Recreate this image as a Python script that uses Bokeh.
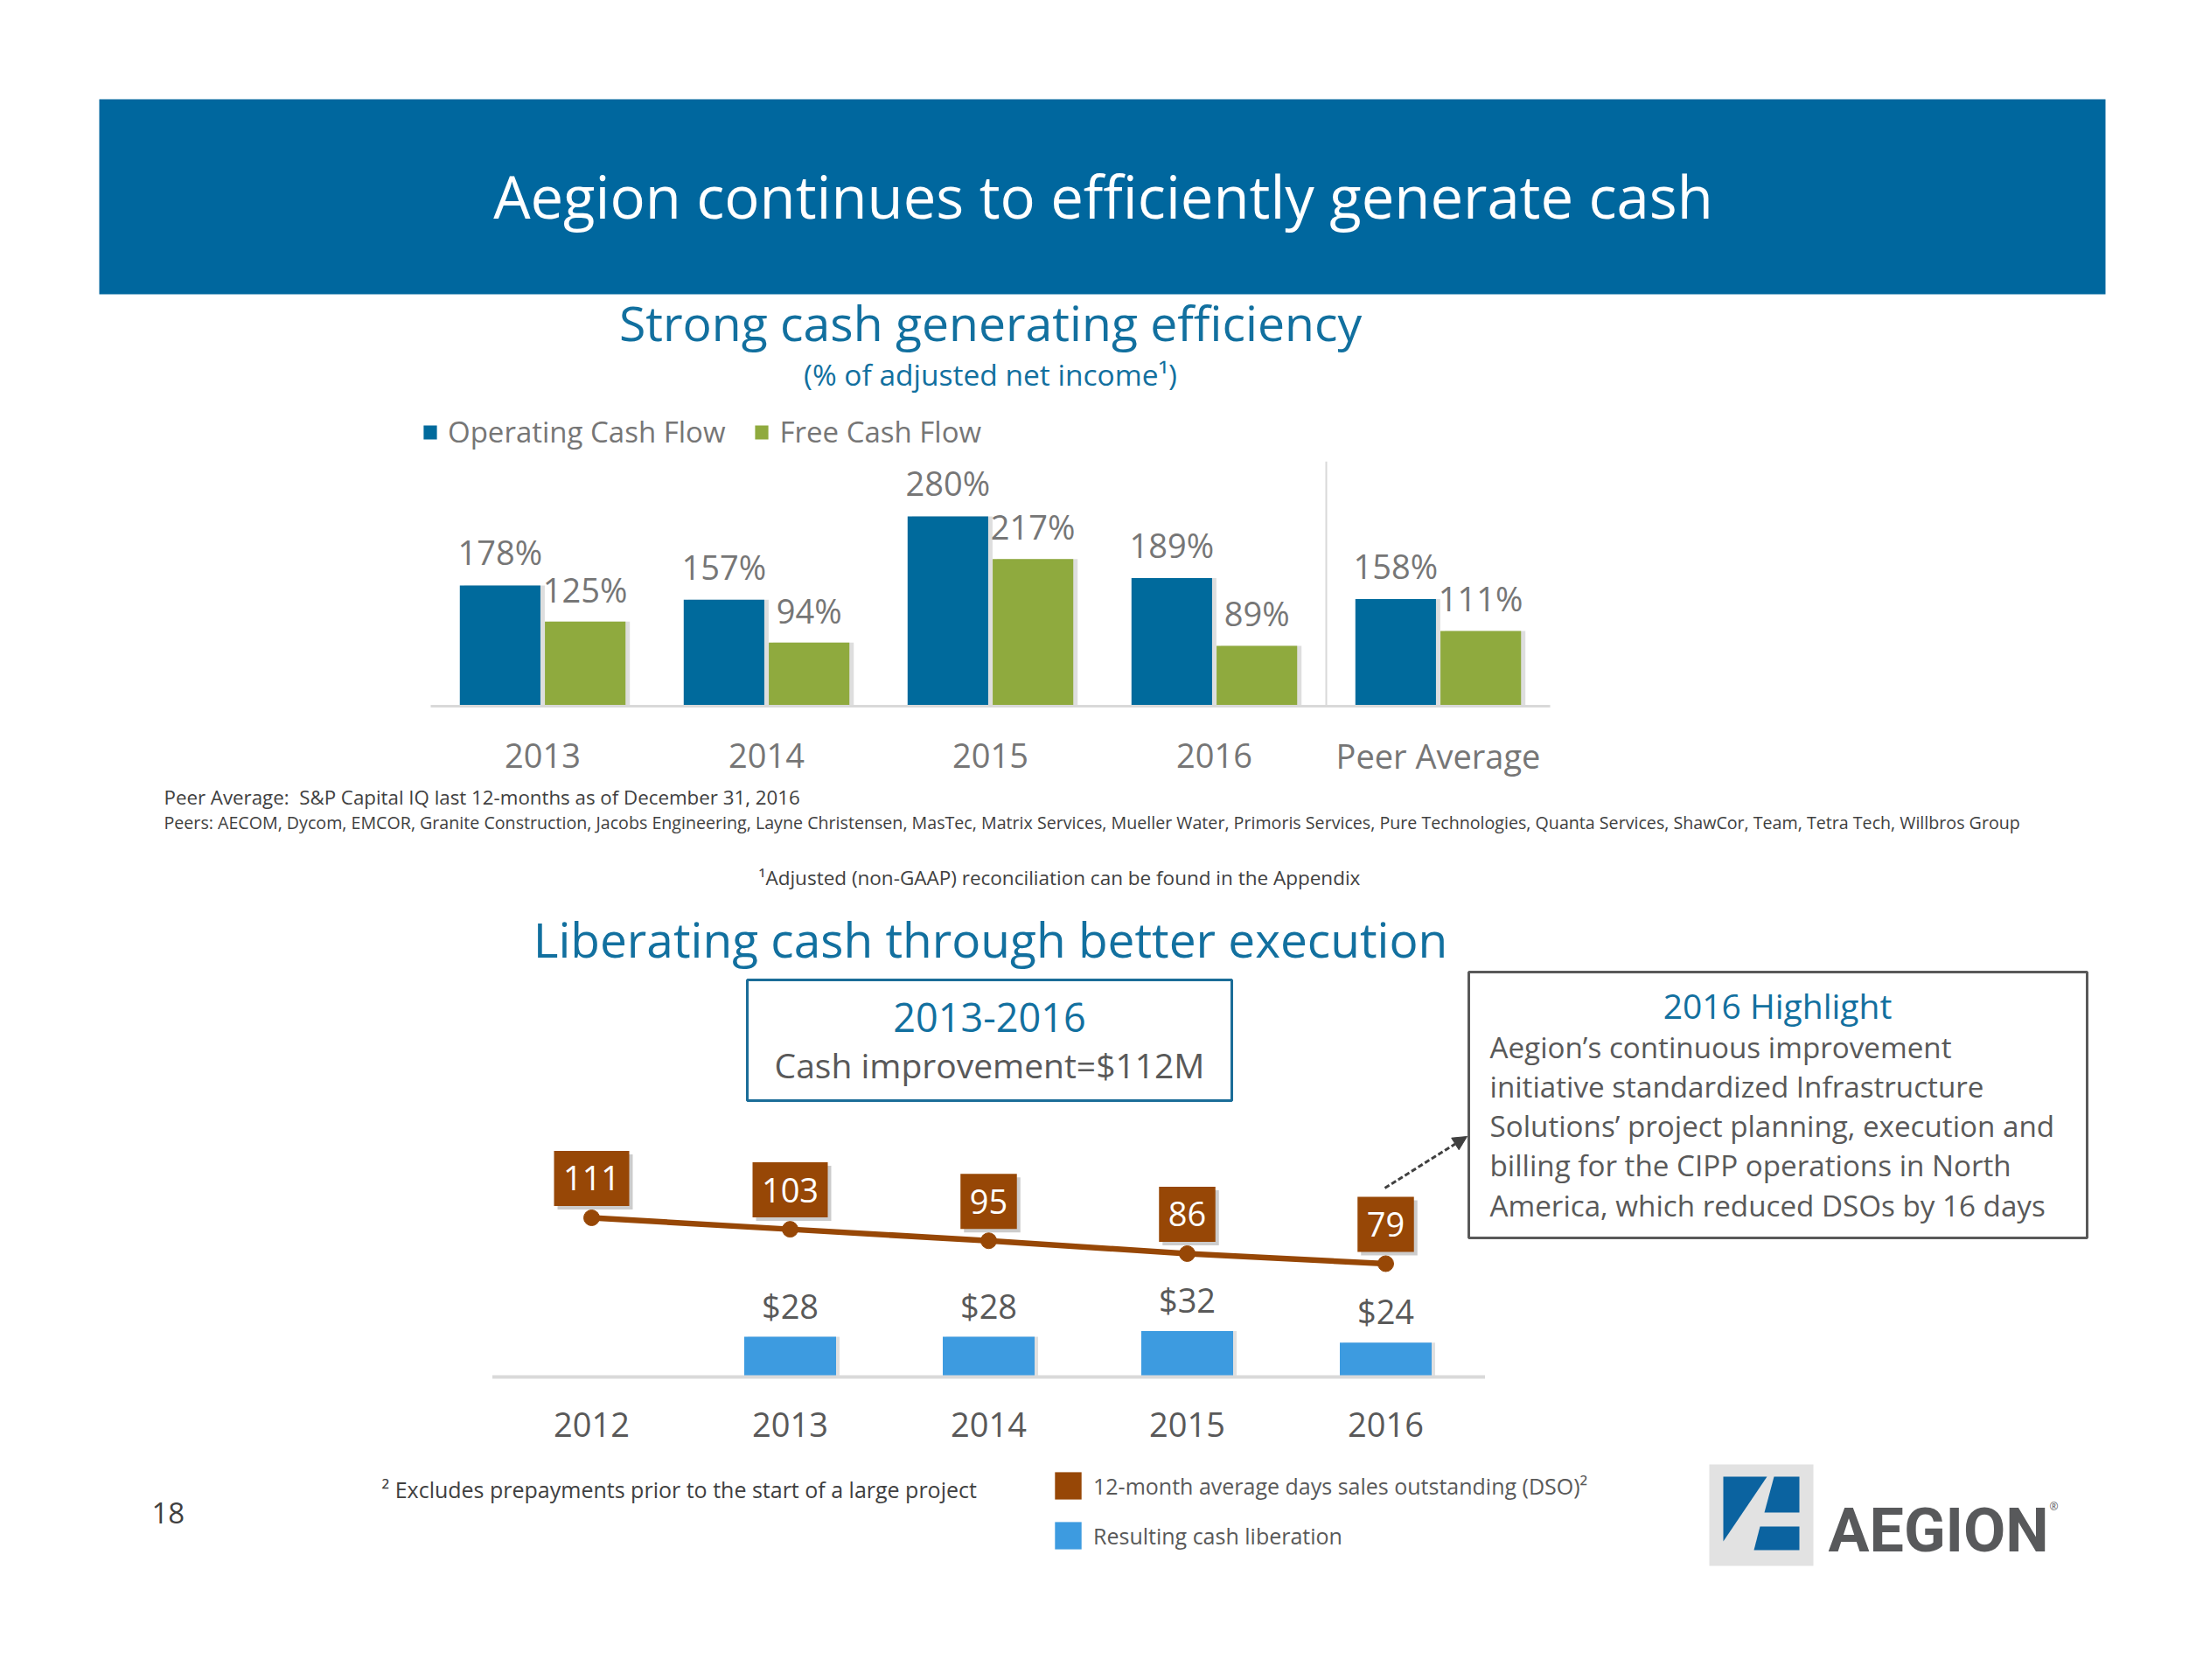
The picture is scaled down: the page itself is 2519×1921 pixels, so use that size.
from bokeh.plotting import figure
from bokeh.models import (Range1d, ColumnDataSource, Legend, LegendItem, Label, Arrow, NormalHead)
from bokeh.transform import dodge
from bokeh.core.properties import value
from bokeh.embed import file_html
from bokeh.resources import INLINE

# ---------------- data ----------------
cf_categories = ["2013", "2014", "2015", "2016", "Peer Average"]
operating_cash_flow = [178, 157, 280, 189, 158]
free_cash_flow = [125, 94, 217, 89, 111]
cf_series = ["Operating Cash Flow", "Free Cash Flow"]

dso_years = ["2012", "2013", "2014", "2015", "2016"]
dso_days = [111, 103, 95, 86, 79]
cash_years = ["2013", "2014", "2015", "2016"]
cash_liberation = [28, 28, 32, 24]
dso_series = ["12-month average days sales outstanding (DSO)\u00b2", "Resulting cash liberation"]

# ---------------- page geometry ----------------
OFF = 0
W, H = 2519, 1921
FONT = "Open Sans"
BASE_FIX = 0.37   # baseline correction (fraction of font size)

BLUE_HDR = "#00679E"
TITLE_BLUE = "#12709F"
BAR_BLUE = "#006A9C"
BAR_GREEN = "#8FAA3E"
GRAY_LIGHT = "#767676"
GRAY_DARK = "#595959"
GRAY_NOTE = "#404040"
BROWN = "#974706"
LIGHT_BLUE = "#3D9BE0"
AXIS_GRAY = "#D9D9D9"

p = figure(width=W, height=H, x_range=Range1d(OFF, OFF + W), y_range=Range1d(OFF + H, OFF),
           output_backend="svg", toolbar_location=None, x_axis_location=None, y_axis_location=None,
           min_border=0, outline_line_color=None, title=None,
           background_fill_color="white", border_fill_color="white")
p.grid.visible = False


def lin_range(v0, px0, v1, px1, horizontal):
    k = (px1 - px0) / (v1 - v0)
    if horizontal:
        return Range1d(v0 + (OFF - px0) / k, v0 + (OFF + W - px0) / k)
    return Range1d(v0 + (OFF + H - px0) / k, v0 + (OFF - px0) / k)


def txt(x, y, s, size, color, align="center", font=FONT, style="normal"):
    p.add_layout(Label(x=x, y=y - BASE_FIX * size, text=s, text_font=font,
                       text_font_size=f"{size}px", text_color=color, text_align=align,
                       text_baseline="alphabetic", text_font_style=style))


# ---------------- slide header ----------------
p.quad(left=113, right=2407, top=113, bottom=336, fill_color=BLUE_HDR, line_color=None)
txt(1261, 248, "Aegion continues to efficiently generate cash", 67, "white")

# ---------------- chart 1 ----------------
txt(1132, 388, "Strong cash generating efficiency", 55.3, TITLE_BLUE)
txt(1132, 440, "(% of adjusted net income\u00b9)", 33.5, TITLE_BLUE)

C1_PX_PER_UNIT = 0.775
p.extra_x_ranges["c1x"] = lin_range(0, 620, 1, 876, True)
p.extra_y_ranges["c1y"] = lin_range(0, 807, 100, 807 - 100 * C1_PX_PER_UNIT, False)
C1_DODGE = 0.19
C1_BAR_W = 0.36
C1_SHADOW = 5 / 256.0

src1 = ColumnDataSource(dict(
    idx=list(range(len(cf_categories))), cat=cf_categories,
    ocf=operating_cash_flow, fcf=free_cash_flow,
    ocf_lbl=[f"{v}%" for v in operating_cash_flow],
    fcf_lbl=[f"{v}%" for v in free_cash_flow]))

kw1 = dict(source=src1, x_range_name="c1x", y_range_name="c1y")
for off, col in ((-C1_DODGE, "ocf"), (C1_DODGE, "fcf")):
    p.vbar(x=dodge("idx", off + C1_SHADOW), top=col, bottom=0, width=C1_BAR_W,
           fill_color="black", fill_alpha=0.13, line_color=None, **kw1)
r_ocf = p.vbar(x=dodge("idx", -C1_DODGE), top="ocf", bottom=0, width=C1_BAR_W,
               fill_color=BAR_BLUE, line_color=None, **kw1)
r_fcf = p.vbar(x=dodge("idx", C1_DODGE), top="fcf", bottom=0, width=C1_BAR_W,
               fill_color=BAR_GREEN, line_color=None, **kw1)

n1 = len(cf_categories)
p.segment(x0=-0.5, x1=n1 - 0.5, y0=0, y1=0, line_color=AXIS_GRAY, line_width=3,
          x_range_name="c1x", y_range_name="c1y")
p.segment(x0=n1 - 1.5, x1=n1 - 1.5, y0=0, y1=361, line_color=AXIS_GRAY, line_width=2,
          x_range_name="c1x", y_range_name="c1y")

LBL = 38
lbl_kw = dict(text_font=value(FONT), text_font_size=f"{LBL}px", text_color=GRAY_LIGHT,
              text_align="center", text_baseline="alphabetic")
fix = -BASE_FIX * LBL
p.text(x=dodge("idx", -C1_DODGE), y="ocf", text="ocf_lbl", y_offset=-24 + fix, **lbl_kw, **kw1)
p.text(x=dodge("idx", C1_DODGE), y="fcf", text="fcf_lbl", y_offset=-23 + fix, **lbl_kw, **kw1)
p.text(x="idx", y=0, text="cat", y_offset=71 + fix, **lbl_kw, **kw1)

leg1 = Legend(items=[LegendItem(label=cf_series[0], renderers=[r_ocf]),
                     LegendItem(label=cf_series[1], renderers=[r_fcf])],
              orientation="horizontal", location=(482 - OFF, OFF + H - 516), glyph_width=19,
              glyph_height=20, label_standoff=11, spacing=32, padding=0, margin=0,
              border_line_color=None, background_fill_alpha=0, label_text_font=FONT,
              label_text_font_size="33px", label_text_color=GRAY_LIGHT, label_height=20)
p.add_layout(leg1)

# footnotes
txt(187, 919, "Peer Average:\u00a0 S&P Capital IQ last 12-months as of December 31, 2016", 22.3, GRAY_NOTE, align="left")
txt(187, 947, "Peers: AECOM, Dycom, EMCOR, Granite Construction, Jacobs Engineering, Layne Christensen, "
              "MasTec, Matrix Services, Mueller Water, Primoris Services, Pure Technologies, Quanta Services, "
              "ShawCor, Team, Tetra Tech, Willbros Group", 19.65, GRAY_NOTE, align="left")
txt(1211, 1011, "\u00b9Adjusted (non-GAAP) reconciliation can be found in the Appendix", 22.5, GRAY_NOTE)

# ---------------- chart 2 ----------------
txt(1132, 1093, "Liberating cash through better execution", 55, TITLE_BLUE)

p.quad(left=854, right=1408, top=1120, bottom=1258, fill_color=None, line_color="#1B6D98", line_width=3)
txt(1131, 1180, "2013-2016", 45, TITLE_BLUE)
txt(1131, 1231, "Cash improvement=$112M", 39, GRAY_DARK)

p.quad(left=1679, right=2386, top=1111, bottom=1415, fill_color=None, line_color=GRAY_DARK, line_width=3)
txt(2032, 1163, "2016 Highlight", 39, TITLE_BLUE)
highlight_lines = ["Aegion\u2019s continuous improvement",
                   "initiative standardized Infrastructure",
                   "Solutions\u2019 project planning, execution and",
                   "billing for the CIPP operations in North",
                   "America, which reduced DSOs by 16 days"]
for i, line in enumerate(highlight_lines):
    txt(1703, 1209 + 45.2 * i, line, 33.2, GRAY_DARK, align="left")

C2_PX_PER_UNIT = 1.6396
p.extra_x_ranges["c2x"] = lin_range(0, 676, 1, 903, True)
p.extra_y_ranges["c2y"] = lin_range(0, 1574, 100, 1574 - 100 * C2_PX_PER_UNIT, False)
kw2r = dict(x_range_name="c2x", y_range_name="c2y")

C2_BAR_W = 105 / 227.0
cash_idx = [dso_years.index(y) for y in cash_years]
src_cash = ColumnDataSource(dict(idx=cash_idx, cash=cash_liberation,
                                 lbl=[f"${v}" for v in cash_liberation]))
p.vbar(x=dodge("idx", 4 / 227.0), top="cash", bottom=0, width=C2_BAR_W, fill_color="black",
       fill_alpha=0.12, line_color=None, source=src_cash, **kw2r)
r_cash = p.vbar(x="idx", top="cash", bottom=0, width=C2_BAR_W, fill_color=LIGHT_BLUE,
                line_color=None, source=src_cash, **kw2r)
p.segment(x0=-0.5, x1=len(dso_years) - 0.5, y0=0, y1=0, line_color=AXIS_GRAY, line_width=4, **kw2r)

lbl2 = dict(text_font=value(FONT), text_font_size=f"{LBL}px", text_color=GRAY_DARK,
            text_align="center", text_baseline="alphabetic")
p.text(x="idx", y="cash", text="lbl", y_offset=-22 + fix, source=src_cash, **lbl2, **kw2r)

LIFT = 45 / C2_PX_PER_UNIT
src_dso = ColumnDataSource(dict(
    idx=list(range(len(dso_years))), year=dso_years, dso=dso_days,
    lbl=[str(v) for v in dso_days],
    box_y=[v + LIFT for v in dso_days],
    shadow_y=[v + LIFT - 4 / C2_PX_PER_UNIT for v in dso_days],
    box_w=[21.5 * (len(str(v)) + 1) for v in dso_days]))
p.text(x="idx", y=0, text="year", y_offset=69 + fix, source=src_dso, **lbl2, **kw2r)
p.line(x="idx", y="dso", line_color=BROWN, line_width=6.5, source=src_dso, **kw2r)
p.scatter(x="idx", y="dso", size=18, fill_color=BROWN, line_color=BROWN, source=src_dso, **kw2r)
p.rect(x=dodge("idx", 4 / 227.0), y="shadow_y", width="box_w", width_units="screen", height=63,
       height_units="screen", fill_color="black", fill_alpha=0.2, line_color=None, source=src_dso, **kw2r)
r_box = p.rect(x="idx", y="box_y", width="box_w", width_units="screen", height=63, height_units="screen",
               fill_color=BROWN, line_color=None, source=src_dso, **kw2r)
p.text(x="idx", y="box_y", text="lbl", y_offset=14 + fix, source=src_dso,
       text_font=value(FONT), text_font_size=f"{LBL}px", text_color="white",
       text_align="center", text_baseline="alphabetic", **kw2r)

p.add_layout(Arrow(x_start=1583, y_start=1358, x_end=1677, y_end=1299, line_color="#404040",
                   line_width=3, line_dash="6 3",
                   end=NormalHead(size=16, fill_color="#404040", line_color="#404040")))

leg2 = Legend(items=[LegendItem(label=dso_series[0], renderers=[r_box]),
                     LegendItem(label=dso_series[1], renderers=[r_cash])],
              orientation="vertical", location=(1202 - OFF, OFF + H - 1775), glyph_width=38,
              glyph_height=39, label_standoff=10, spacing=18, padding=0, margin=0,
              border_line_color=None, background_fill_alpha=0, label_text_font=FONT,
              label_text_font_size="25px", label_text_color=GRAY_DARK, label_height=20)
p.add_layout(leg2)

txt(436, 1712, "\u00b2 Excludes prepayments prior to the start of a large project", 25, GRAY_NOTE, align="left")
txt(173, 1742, "18", 33, GRAY_NOTE, align="left")

# ---------------- logo ----------------
p.quad(left=1954, right=2073, top=1674, bottom=1790, fill_color="#E2E2E2", line_color=None)
p.patches(xs=[[1970, 2020, 1970], [2028, 2057, 2057, 2017], [2012, 2057, 2057, 2005]],
          ys=[[1688, 1688, 1762], [1688, 1688, 1729, 1729], [1745, 1745, 1772, 1772]],
          fill_color="#0B63A0", line_color=None)
txt(2090, 1775, "AEGION", 70, "#58595B", align="left", font="Roboto", style="bold")
txt(2343, 1726, "\u00ae", 12, "#58595B", align="left")

open("out.html", "w").write(file_html(p, INLINE, "Aegion"))
